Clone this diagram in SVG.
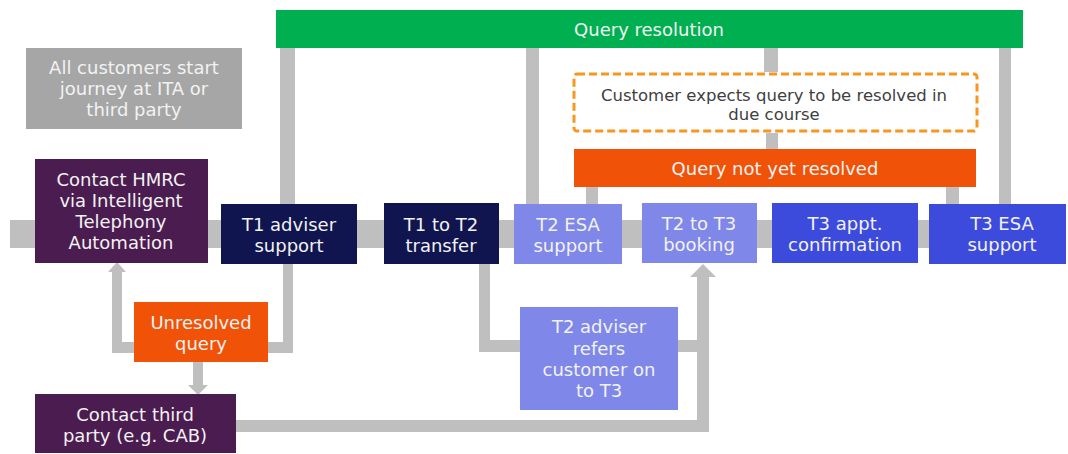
<svg xmlns="http://www.w3.org/2000/svg" width="1068" height="454" viewBox="0 0 1068 454">
<style>
text{font-family:"DejaVu Sans","Verdana",sans-serif;font-size:18px;fill:#f2f2f2;text-anchor:middle}
.c{fill:#bfbfbf}
.dk{fill:#404040;font-size:16.5px}
.purple{fill:#4b1c50}
.navy{fill:#10154f}
.lav{fill:#7f88e8}
.blue{fill:#3c4bdc}
.org{fill:#f05208}
</style>
<rect width="1068" height="454" fill="#ffffff"/>
<g id="connectors">
  <rect class="c" x="10" y="220" width="919" height="28"/>
  <rect class="c" x="280" y="47" width="15" height="158"/>
  <rect class="c" x="283" y="263" width="10" height="90"/>
  <rect class="c" x="267" y="342" width="26" height="11"/>
  <rect class="c" x="112" y="342" width="23" height="11"/>
  <rect class="c" x="112" y="271" width="10" height="82"/>
  <polygon class="c" points="117,262 126,272 108,272"/>
  <rect class="c" x="193" y="361" width="10" height="25"/>
  <polygon class="c" points="198,395 208,385 188,385"/>
  <rect class="c" x="526" y="47" width="13" height="158"/>
  <rect class="c" x="586" y="186" width="12" height="19"/>
  <rect class="c" x="764" y="47" width="14" height="25"/>
  <rect class="c" x="766" y="133" width="12" height="17"/>
  <rect class="c" x="946" y="186" width="13" height="19"/>
  <rect class="c" x="999" y="47" width="12" height="158"/>
  <rect class="c" x="479" y="263" width="11" height="89"/>
  <rect class="c" x="479" y="340" width="42" height="12"/>
  <rect class="c" x="677" y="340" width="26" height="12"/>
  <rect class="c" x="235" y="420" width="474" height="12"/>
  <rect class="c" x="697" y="276" width="12" height="156"/>
  <polygon class="c" points="703,264 716,277 690,277"/>
</g>
<g id="query-resolution">
  <rect x="276" y="10" width="747" height="38" fill="#00b050"/>
  <text x="649" y="36">Query resolution</text>
</g>
<g id="all-customers">
  <rect x="26" y="48" width="216" height="81" fill="#a6a6a6"/>
  <text x="134" y="74">All customers start</text>
  <text x="134" y="95">journey at ITA or</text>
  <text x="134" y="116">third party</text>
</g>
<g id="customer-expects">
  <rect x="574" y="74" width="403" height="57" rx="3" fill="#ffffff" stroke="#f8961e" stroke-width="3" stroke-dasharray="8 4"/>
  <text class="dk" x="774" y="101">Customer expects query to be resolved in</text>
  <text class="dk" x="774" y="120">due course</text>
</g>
<g id="query-not-resolved">
  <rect class="org" x="574" y="149" width="402" height="38"/>
  <text x="775" y="175">Query not yet resolved</text>
</g>
<g id="contact-hmrc">
  <rect class="purple" x="35" y="159" width="173" height="104"/>
  <text x="121" y="186">Contact HMRC</text>
  <text x="121" y="207">via Intelligent</text>
  <text x="121" y="228">Telephony</text>
  <text x="121" y="249">Automation</text>
</g>
<g id="t1-adviser">
  <rect class="navy" x="221" y="204" width="136" height="60"/>
  <text x="289" y="231">T1 adviser</text>
  <text x="289" y="252">support</text>
</g>
<g id="t1-t2-transfer">
  <rect class="navy" x="384" y="203" width="115" height="61"/>
  <text x="441" y="231">T1 to T2</text>
  <text x="441" y="252">transfer</text>
</g>
<g id="t2-esa">
  <rect class="lav" x="514" y="204" width="108" height="60"/>
  <text x="568" y="231">T2 ESA</text>
  <text x="568" y="252">support</text>
</g>
<g id="t2-t3-booking">
  <rect class="lav" x="642" y="203" width="115" height="60"/>
  <text x="699" y="230">T2 to T3</text>
  <text x="699" y="251">booking</text>
</g>
<g id="t3-appt">
  <rect class="blue" x="772" y="203" width="146" height="60"/>
  <text x="845" y="230">T3 appt.</text>
  <text x="845" y="251">confirmation</text>
</g>
<g id="t3-esa">
  <rect class="blue" x="929" y="204" width="137" height="60"/>
  <text x="1002" y="230">T3 ESA</text>
  <text x="1002" y="251">support</text>
</g>
<g id="unresolved-query">
  <rect class="org" x="134" y="302" width="134" height="60"/>
  <text x="201" y="329">Unresolved</text>
  <text x="201" y="350">query</text>
</g>
<g id="t2-adviser-refers">
  <rect class="lav" x="520" y="307" width="158" height="103"/>
  <text x="599" y="333">T2 adviser</text>
  <text x="599" y="355">refers</text>
  <text x="599" y="376">customer on</text>
  <text x="599" y="397">to T3</text>
</g>
<g id="contact-third-party">
  <rect class="purple" x="35" y="394" width="201" height="59"/>
  <text x="135" y="421">Contact third</text>
  <text x="135" y="442">party (e.g. CAB)</text>
</g>
</svg>
